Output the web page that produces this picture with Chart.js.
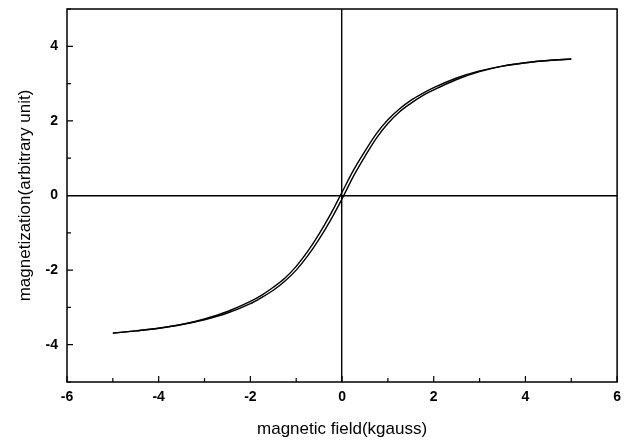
<!DOCTYPE html>
<html>
<head>
<meta charset="utf-8">
<script src="https://cdn.jsdelivr.net/npm/chart.js@4.4.1/dist/chart.umd.min.js"></script>
<style>
    html, body { margin: 0; padding: 0; background: #fff; }
    #wrap { width: 628px; height: 440px; }
</style>
</head>
<body>
<div id="wrap"><canvas id="loopChart" width="628" height="440"></canvas></div>
<script>
// field values (kgauss)
const field = [-5, -4.5, -4, -3.5, -3, -2.5, -2, -1.75, -1.5, -1.25, -1, -0.75, -0.5, -0.25,
               0, 0.25, 0.5, 0.75, 1, 1.25, 1.5, 1.75, 2, 2.5, 3, 3.5, 4, 4.5, 5];

// descending branch (sits slightly higher)
const branch_down = [-3.69, -3.63, -3.56, -3.46, -3.31, -3.11, -2.84, -2.67, -2.46, -2.22, -1.90, -1.50, -1.03, -0.50,
                     0.09, 0.68, 1.19, 1.66, 2.03, 2.32, 2.55, 2.73, 2.89, 3.15, 3.34, 3.47, 3.56, 3.62, 3.66];

// ascending branch (sits slightly lower)
const branch_up = [-3.69, -3.63, -3.56, -3.46, -3.33, -3.15, -2.90, -2.73, -2.54, -2.30, -2.00, -1.62, -1.17, -0.66,
                   -0.09, 0.52, 1.05, 1.54, 1.93, 2.24, 2.47, 2.67, 2.83, 3.11, 3.32, 3.47, 3.56, 3.62, 3.66];

const x_labels = [-6, -4, -2, 0, 2, 4, 6];
const y_labels = [-4, -2, 0, 2, 4];

function to_points(ys)
{
    return field.map((x, i) => ({ x: x, y: ys[i] }));
}

// frame + inward ticks, like the origin style plot
const frame_plugin = {
    id: "frame",
    afterDraw(chart) {
        const ctx = chart.ctx;
        const area = chart.chartArea;
        const xs = chart.scales.x;
        const ys = chart.scales.y;
        ctx.save();
        ctx.strokeStyle = "#000";
        ctx.lineWidth = 1.5;
        ctx.strokeRect(area.left, area.top, area.right - area.left, area.bottom - area.top);

        ctx.lineWidth = 1.2;
        ctx.beginPath();
        xs.ticks.forEach(t => {
            const px = xs.getPixelForValue(t.value);
            const len = x_labels.includes(t.value) ? 6 : 4;
            ctx.moveTo(px, area.bottom);
            ctx.lineTo(px, area.bottom - len);
        });
        ys.ticks.forEach(t => {
            const py = ys.getPixelForValue(t.value);
            const len = y_labels.includes(t.value) ? 6 : 4;
            ctx.moveTo(area.left, py);
            ctx.lineTo(area.left + len, py);
        });
        ctx.stroke();
        ctx.restore();
    }
};

const tick_font = { family: "'Liberation Sans', Arial, sans-serif", size: 14, weight: "bold" };
const title_font = { family: "'Liberation Sans', Arial, sans-serif", size: 17 };

const ctx = document.getElementById("loopChart").getContext("2d");

const loopChart = new Chart(ctx, {
    type: "line",
    data: {
        datasets: [
            {
                label: "descending",
                data: to_points(branch_down),
                borderColor: "#000",
                borderWidth: 1.4,
                pointRadius: 0,
                fill: false,
                cubicInterpolationMode: "monotone"
            },
            {
                label: "ascending",
                data: to_points(branch_up),
                borderColor: "#000",
                borderWidth: 1.4,
                pointRadius: 0,
                fill: false,
                cubicInterpolationMode: "monotone"
            }
        ]
    },
    options: {
        responsive: false,
        animation: false,
        layout: { padding: { top: 9, right: 9, left: 0, bottom: 0 } },
        plugins: {
            legend: { display: false },
            tooltip: { enabled: false }
        },
        scales: {
            x: {
                type: "linear",
                min: -6,
                max: 6,
                afterFit: scale => { scale.height = 58; },
                ticks: {
                    stepSize: 1,
                    color: "#000",
                    font: tick_font,
                    padding: 7,
                    maxRotation: 0,
                    callback: v => (x_labels.includes(v) ? String(v) : "")
                },
                grid: {
                    drawTicks: false,
                    color: c => (c.tick && c.tick.value === 0 ? "#000" : "rgba(0,0,0,0)"),
                    lineWidth: 1.4
                },
                border: { display: false },
                title: {
                    display: true,
                    text: "magnetic field(kgauss)",
                    color: "#000",
                    font: title_font,
                    padding: { top: 6, bottom: 0 }
                }
            },
            y: {
                type: "linear",
                min: -5,
                max: 5,
                afterFit: scale => {
                    scale.width = 67;
                    scale.paddingTop = 0;
                    scale.paddingBottom = 0;
                },
                ticks: {
                    stepSize: 1,
                    color: "#000",
                    font: tick_font,
                    padding: 9,
                    callback: v => (y_labels.includes(v) ? String(v) : "")
                },
                grid: {
                    drawTicks: false,
                    color: c => (c.tick && c.tick.value === 0 ? "#000" : "rgba(0,0,0,0)"),
                    lineWidth: 1.4
                },
                border: { display: false },
                title: {
                    display: true,
                    text: "magnetization(arbitrary unit)",
                    color: "#000",
                    font: title_font,
                    padding: { top: 15, bottom: 0 }
                }
            }
        }
    },
    plugins: [frame_plugin]
});
</script>
</body>
</html>
